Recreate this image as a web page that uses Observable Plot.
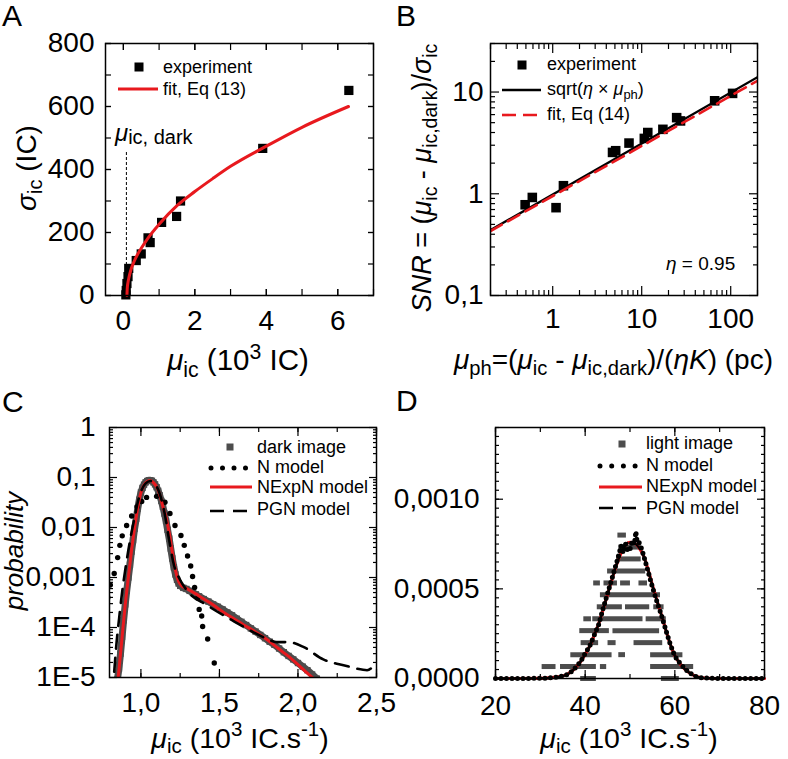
<!DOCTYPE html>
<html><head><meta charset="utf-8">
<script src="https://cdn.jsdelivr.net/npm/d3@7"></script>
<script src="https://cdn.jsdelivr.net/npm/@observablehq/plot@0.6"></script>
<style>
body{margin:0;background:#fff;}
#fig{position:relative;width:788px;height:759px;overflow:hidden;font-family:"Liberation Sans",Arial,sans-serif;color:#000;background:#fff;}
.pl{position:absolute;}
.t{position:absolute;white-space:nowrap;line-height:1;}
.t sub{font-size:0.72em;vertical-align:-0.32em;line-height:0;}
.t sup{font-size:0.72em;vertical-align:0.55em;line-height:0;}
.t.lowsub sub{vertical-align:-0.25em;}
</style></head><body><div id="fig"></div><script>
// ---------------- Panel A data ----------------
const aExpX = [6.31, 3.9, 1.6, 1.49, 1.07, 0.69, 0.75, 0.5, 0.36, 0.15, 0.13, 0.1, 0.08, 0.07];
const aExpY = [651, 467, 300, 251, 232, 183, 168, 132, 111, 86, 60, 38, 16, 2];
const aFitX = [0.1, 0.11, 0.13, 0.16, 0.2, 0.3, 0.4, 0.5, 0.7, 1.0, 1.5, 2.0, 2.5, 3.0, 4.0, 5.0, 6.3];
const aFitY = [0, 24, 42, 59, 77, 108, 131, 150, 184, 226, 285, 330, 371, 410, 474, 534, 600];
const aDarkX = 0.085, aDarkTop = 457;
const aXTicks = [0, 2, 4, 6], aXTickLabels = ["0", "2", "4", "6"];
const aXMinor = [0, 1, 2, 3, 4, 5, 6, 7];
const aYTicks = [0, 200, 400, 600, 800], aYTickLabels = ["0", "200", "400", "600", "800"];
const aYMinor = [0, 100, 200, 300, 400, 500, 600, 700, 800];

// ---------------- Panel B data ----------------
const bExpX = [0.49, 0.59, 1.09, 1.32, 4.7, 5.1, 7.2, 10.7, 11.7, 17.3, 24.7, 27.3, 66, 105];
const bExpY = [0.78, 0.92, 0.73, 1.2, 2.55, 2.65, 3.15, 3.5, 4.0, 4.3, 5.6, 5.2, 8.2, 9.7];
const bSqrtX = [0.2, 200], bSqrtY = [0.44, 14.0];
const bFitX = [0.2, 200], bFitY = [0.43, 12.9];
const bXTicks = [1, 10, 100], bXTickLabels = ["1", "10", "100"];
const bXMinor = [0.2,0.3,0.4,0.5,0.6,0.7,0.8,0.9,2,3,4,5,6,7,8,9,20,30,40,50,60,70,80,90,200];
const bYTicks = [0.1, 1, 10], bYTickLabels = ["0,1", "1", "10"];
const bYMinor = [0.2,0.3,0.4,0.5,0.6,0.7,0.8,0.9,2,3,4,5,6,7,8,9,20,30];

// ---------------- Panel C data ----------------
const cDarkX = [0.85,0.86,0.87,0.88,0.89,0.90,0.91,0.92,0.93,0.94,0.95,0.96,0.97,0.98,0.99,1.00,1.01,1.02,1.03,1.04,1.05,1.06,1.07,1.08,1.09,1.10,1.11,1.12,1.13,1.14,1.15,1.16,1.17,1.18,1.19,1.20,1.21,1.22,1.23,1.24,1.25,1.27,1.29,1.31,1.33,1.35,1.37,1.40,1.43,1.46,1.49,1.52,1.55,1.58,1.61,1.64,1.67,1.70,1.73,1.76,1.79,1.82,1.85,1.88,1.91,1.94,1.97,2.00,2.03,2.06,2.09,2.12,2.14];
const cDarkP = [9e-6,1.5e-5,3e-5,6.5e-5,1.4e-4,2.9e-4,5.5e-4,1.0e-3,1.8e-3,3.3e-3,5.6e-3,9.5e-3,1.5e-2,2.4e-2,3.6e-2,5.0e-2,6.2e-2,7.2e-2,8.0e-2,8.5e-2,8.8e-2,8.8e-2,8.6e-2,8.0e-2,7.3e-2,6.4e-2,5.4e-2,4.4e-2,3.4e-2,2.6e-2,1.9e-2,1.35e-2,9e-3,6e-3,3.8e-3,2.4e-3,1.6e-3,1.15e-3,9e-4,7.6e-4,6.8e-4,6.2e-4,5.9e-4,5.4e-4,5.0e-4,4.6e-4,4.2e-4,3.7e-4,3.3e-4,2.9e-4,2.6e-4,2.3e-4,2.0e-4,1.75e-4,1.5e-4,1.3e-4,1.12e-4,9.6e-5,8.3e-5,7.1e-5,6.1e-5,5.2e-5,4.5e-5,3.8e-5,3.2e-5,2.7e-5,2.3e-5,1.95e-5,1.65e-5,1.4e-5,1.15e-5,9.5e-6,8.5e-6];
const cRedX = [0.85,0.86,0.88,0.90,0.92,0.94,0.96,0.98,1.00,1.02,1.04,1.06,1.08,1.10,1.12,1.14,1.16,1.18,1.20,1.22,1.24,1.26,1.28,1.30,1.35,1.40,1.45,1.50,1.55,1.60,1.65,1.70,1.75,1.80,1.85,1.90,1.95,2.00,2.05,2.10];
const cRedP = [7e-6,1.4e-5,6.3e-5,2.8e-4,1.0e-3,3.4e-3,1.0e-2,2.5e-2,5.0e-2,7.1e-2,8.3e-2,8.7e-2,7.9e-2,6.5e-2,4.5e-2,2.6e-2,1.6e-2,7.9e-3,3.2e-3,1.4e-3,8.3e-4,6.8e-4,6.2e-4,5.8e-4,4.7e-4,3.7e-4,3.0e-4,2.3e-4,1.8e-4,1.45e-4,1.15e-4,9.3e-5,7.4e-5,5.8e-5,4.4e-5,3.3e-5,2.5e-5,1.8e-5,1.3e-5,9.5e-6];
const cNX = [0.79,0.805,0.83,0.852,0.866,0.881,0.909,0.941,0.976,1.005,1.036,1.10,1.153,1.185,1.217,1.255,1.276,1.297,1.317,1.329,1.342,1.361,1.371,1.387,1.393,1.425,1.467];
const cNP = [4.0e-4,7.1e-4,1.2e-3,2.5e-3,4.4e-3,6.8e-3,1.1e-2,1.7e-2,2.6e-2,3.3e-2,4.0e-2,4.2e-2,3.2e-2,1.9e-2,1.1e-2,6.9e-3,4.4e-3,2.7e-3,1.7e-3,1.05e-3,6.3e-4,3.9e-4,2.3e-4,1.7e-4,1.05e-4,5.9e-5,1.95e-5];
const cPgnX = [0.83,0.845,0.86,0.88,0.90,0.92,0.94,0.96,0.98,1.00,1.03,1.06,1.09,1.12,1.15,1.18,1.21,1.25,1.30,1.42,1.58,1.715,1.80,1.864,1.938,2.034,2.161,2.31,2.374,2.44,2.5];
const cPgnP = [1.3e-5,5e-5,1.4e-4,5e-4,1.4e-3,3.5e-3,7.9e-3,1.6e-2,3.2e-2,5.2e-2,7.6e-2,8.5e-2,7.4e-2,4.7e-2,2.0e-2,5.6e-3,1.8e-3,8.9e-4,5.2e-4,2.8e-4,1.4e-4,8.1e-5,6e-5,5.1e-5,5.1e-5,4.1e-5,2.3e-5,1.7e-5,1.5e-5,1.4e-5,2e-5];
const cXTicks = [1.0, 1.5, 2.0, 2.5], cXTickLabels = ["1,0", "1,5", "2,0", "2,5"];
const cXMinor = [1.0, 1.25, 1.5, 1.75, 2.0, 2.25, 2.5];
const cYTicks = [1e-5, 1e-4, 1e-3, 1e-2, 0.1, 1], cYTickLabels = ["1E-5", "1E-4", "0,001", "0,01", "0,1", "1"];
const cYMinor = [1e-5, 1e-4, 1e-3, 1e-2, 1e-1].flatMap(b => [2, 3, 4, 5, 6, 7, 8, 9].map(m => m * b));

// ---------------- Panel D data ----------------
const dRowY  = [0,0, 0.0000667,0.0000667,0.0000667,0.0000667, 0.000133,0.000133,0.000133, 0.0002,0.0002,0.0002, 0.000267,0.000267, 0.000333,0.000333,0.000333, 0.0004,0.0004,0.0004, 0.000467, 0.000533,0.000533,0.000533,0.000533, 0.0006, 0.000667, 0.000733, 0.0008];
const dRowX0 = [39,57, 30.4,34.5,43.4,54.6, 36.8,47.5,54.6, 39.1,45.1,50.9, 38.8,46.2, 39.7,41.7,53.6, 42.7,49,55.3, 43.4, 41.9,44.2,47.9,52, 45, 47, 47.5, 47.3];
const dRowX1 = [42.5,61, 33.5,42.5,44.8,64.2, 46,49,61.8, 43,46.9,57.3, 45.4,56.6, 41.4,52.9,58.1, 48.3,54.4,57.6, 56.8, 43.4,47.2,50.1,53.9, 53.5, 52.5, 52.5, 49.2];
const dModelX = [20,25,30,32,34,35,36,37,38,39,40,41,42,43,44,45,46,47,48,49,50,51,52,53,54,55,56,57,58,59,60,61,62,63,64,65,66,68,70,75,80];
const dModelY = [0,0,1e-6,3e-6,9e-6,1.4e-5,2.3e-5,4e-5,6.5e-5,9.5e-5,1.35e-4,1.8e-4,2.4e-4,3.05e-4,3.85e-4,4.7e-4,5.55e-4,6.35e-4,7.0e-4,7.45e-4,7.6e-4,7.55e-4,7.3e-4,6.85e-4,6.1e-4,5.2e-4,4.35e-4,3.55e-4,2.7e-4,1.9e-4,1.27e-4,8.8e-5,5.8e-5,3.6e-5,2e-5,9e-6,4e-6,1e-6,0,0,0];
const dNX = [20,25,30,32,34,35,36,37,38,39,40,41,42,43,44,45,46,47,47.5,48,48.5,49,49.5,50,50.5,51,51.3,51.6,52,52.5,53,54,55,56,57,58,59,60,61,62,63,64,65,66,68,70,75,80];
const dNY = [0,0,1e-6,3e-6,9e-6,1.4e-5,2.2e-5,4e-5,6.5e-5,9.5e-5,1.4e-4,1.8e-4,2.4e-4,3.0e-4,3.9e-4,4.75e-4,5.6e-4,6.45e-4,6.9e-4,7.4e-4,7.0e-4,7.5e-4,7.1e-4,7.2e-4,7.7e-4,7.5e-4,8.2e-4,7.6e-4,7.6e-4,7.3e-4,6.9e-4,6.0e-4,5.1e-4,4.3e-4,3.55e-4,2.7e-4,1.9e-4,1.25e-4,9e-5,6e-5,3.8e-5,2e-5,8e-6,4e-6,1e-6,0,0,0];
const dXTicks = [20, 40, 60, 80], dXTickLabels = ["20", "40", "60", "80"];
const dXMinor = [20, 30, 40, 50, 60, 70, 80];
const dYTicks = [0, 0.0005, 0.001], dYTickLabels = ["0,0000", "0,0005", "0,0010"];
const dYMinor = [0,0.00005,0.0001,0.00015,0.0002,0.00025,0.0003,0.00035,0.0004,0.00045,0.0005,0.00055,0.0006,0.00065,0.0007,0.00075,0.0008,0.00085,0.0009,0.00095,0.001,0.00105,0.0011,0.00115,0.0012,0.00125,0.0013,0.00135,0.0014];

// ---------------- helpers ----------------
const RED = "#e8191e", GREY = "#4d4d4d";
const zip = (xs, ys) => xs.map((x, i) => ({x, y: ys[i]}));
const STYLE = {fontFamily: '"Liberation Sans", Arial, sans-serif', fontSize: "28px", color: "#000", background: "transparent", overflow: "visible"};

function axes(o) {
  const fmt = (ticks, labels) => d => labels[ticks.indexOf(d)];
  const sw = 1.2, m = [];
  for (const [ticks, len] of [[o.xMinor, o.minor], [o.xTicks, o.major]]) {
    m.push(Plot.axisX({anchor: "bottom", ticks, tickSize: len, dy: -len, fill: "none", label: null, strokeWidth: sw}));
    m.push(Plot.axisX({anchor: "top", ticks, tickSize: len, dy: len, fill: "none", label: null, strokeWidth: sw}));
  }
  for (const [ticks, len] of [[o.yMinor, o.minor], [o.yTicks, o.major]]) {
    m.push(Plot.axisY({anchor: "left", ticks, tickSize: len, dx: len, fill: "none", label: null, strokeWidth: sw}));
    m.push(Plot.axisY({anchor: "right", ticks, tickSize: len, dx: -len, fill: "none", label: null, strokeWidth: sw}));
  }
  m.push(Plot.axisX({anchor: "bottom", ticks: o.xTicks, tickSize: 0, tickPadding: o.xPad, tickFormat: fmt(o.xTicks, o.xLabels), label: null}));
  m.push(Plot.axisY({anchor: "left", ticks: o.yTicks, tickSize: 0, tickPadding: o.yPad, tickFormat: fmt(o.yTicks, o.yLabels), label: null}));
  m.push(Plot.frame({stroke: "#000", strokeWidth: 1.5}));
  return m;
}

const fig = document.getElementById("fig");
function place(svg, left, top) { svg.classList.add("pl"); svg.style.left = left + "px"; svg.style.top = top + "px"; fig.appendChild(svg); }

// ---------------- Panel A ----------------
const plotA = Plot.plot({
  width: 394, height: 380, marginLeft: 105, marginRight: 21, marginTop: 43, marginBottom: 85,
  style: STYLE,
  x: {type: "linear", domain: [-0.5, 7]},
  y: {type: "linear", domain: [0, 800]},
  marks: [
    Plot.ruleX([aDarkX], {y1: 0, y2: aDarkTop, stroke: "#000", strokeWidth: 1, strokeDasharray: "3,2"}),
    Plot.dot(zip(aExpX, aExpY), {x: "x", y: "y", symbol: "square", r: 5.2, fill: "#000", stroke: "none"}),
    Plot.line(zip(aFitX, aFitY), {x: "x", y: "y", stroke: RED, strokeWidth: 3, curve: "monotone-x"}),
    ...axes({xTicks: aXTicks, xLabels: aXTickLabels, xMinor: aXMinor, yTicks: aYTicks, yLabels: aYTickLabels, yMinor: aYMinor, major: 6, minor: 6, xPad: 15, yPad: 11})
  ]
});
place(plotA, 0, 0);

// ---------------- Panel B ----------------
const plotB = Plot.plot({
  width: 394, height: 380, marginLeft: 96, marginRight: 31, marginTop: 43, marginBottom: 85,
  style: STYLE,
  x: {type: "log", domain: [0.2, 200]},
  y: {type: "log", domain: [0.1, 30]},
  marks: [
    Plot.dot(zip(bExpX, bExpY), {x: "x", y: "y", symbol: "square", r: 5.4, fill: "#000", stroke: "none"}),
    Plot.line(zip(bSqrtX, bSqrtY), {x: "x", y: "y", stroke: "#000", strokeWidth: 2.4, clip: true}),
    Plot.line(zip(bFitX, bFitY), {x: "x", y: "y", stroke: RED, strokeWidth: 2.6, strokeDasharray: "13,7", clip: true}),
    ...axes({xTicks: bXTicks, xLabels: bXTickLabels, xMinor: bXMinor, yTicks: bYTicks, yLabels: bYTickLabels, yMinor: bYMinor, major: 9, minor: 5, xPad: 13, yPad: 7})
  ]
});
place(plotB, 394, 0);

// ---------------- Panel C ----------------
const plotC = Plot.plot({
  width: 394, height: 379, marginLeft: 109, marginRight: 18, marginTop: 47, marginBottom: 82,
  style: STYLE,
  x: {type: "linear", domain: [0.8, 2.5]},
  y: {type: "log", domain: [1e-5, 1]},
  marks: [
    Plot.line(zip(cDarkX, cDarkP), {x: "x", y: "y", stroke: GREY, strokeWidth: 7, strokeLinejoin: "round", clip: true}),
    Plot.dot(zip(cDarkX, cDarkP), {x: "x", y: "y", symbol: "square", r: 3.6, fill: GREY, stroke: "none", clip: true}),
    Plot.dot(zip(cNX, cNP), {x: "x", y: "y", r: 2.7, fill: "#000", stroke: "none", clip: true}),
    Plot.line(zip(cRedX, cRedP), {x: "x", y: "y", stroke: RED, strokeWidth: 3, curve: "monotone-x", clip: true}),
    Plot.line(zip(cPgnX, cPgnP), {x: "x", y: "y", stroke: "#000", strokeWidth: 2.6, strokeDasharray: "14,9", curve: "monotone-x", clip: true}),
    ...axes({xTicks: cXTicks, xLabels: cXTickLabels, xMinor: cXMinor, yTicks: cYTicks, yLabels: cYTickLabels, yMinor: cYMinor, major: 8, minor: 4, xPad: 15, yPad: 14})
  ]
});
place(plotC, 0, 380);

// ---------------- Panel D ----------------
const dRows = dRowY.map((y, i) => ({y, x0: dRowX0[i], x1: dRowX1[i]}));
const plotD = Plot.plot({
  width: 394, height: 379, marginLeft: 101, marginRight: 24, marginTop: 47, marginBottom: 81,
  style: STYLE,
  x: {type: "linear", domain: [20, 80]},
  y: {type: "linear", domain: [0, 0.0014]},
  marks: [
    Plot.ruleY(dRows, {y: "y", x1: "x0", x2: "x1", stroke: GREY, strokeWidth: 5}),
    Plot.line(zip(dModelX, dModelY), {x: "x", y: "y", stroke: RED, strokeWidth: 3.2, curve: "monotone-x"}),
    Plot.line(zip(dModelX, dModelY), {x: "x", y: "y", stroke: "#000", strokeWidth: 2.4, strokeDasharray: "9,6", curve: "monotone-x"}),
    Plot.line(zip(dNX, dNY), {x: "x", y: "y", stroke: "#000", strokeWidth: 5, strokeDasharray: "0,5.5", strokeLinecap: "round"}),
    ...axes({xTicks: dXTicks, xLabels: dXTickLabels, xMinor: dXMinor, yTicks: dYTicks, yLabels: dYTickLabels, yMinor: dYMinor, major: 8, minor: 4, xPad: 17, yPad: 16})
  ]
});
place(plotD, 394, 380);

// ---------------- text ----------------
function label(html, x, y, {size = 27, rot = false, anchor = "middle", cls = ""} = {}) {
  const d = document.createElement("div");
  d.className = "t" + (cls ? " " + cls : "");
  d.innerHTML = html;
  d.style.fontSize = size + "px";
  d.style.left = x + "px"; d.style.top = y + "px";
  const tx = anchor === "start" ? "0" : anchor === "end" ? "-100%" : "-50%";
  d.style.transform = `translate(${tx},-50%)` + (rot ? " rotate(-90deg)" : "");
  fig.appendChild(d);
}
// panel letters
label("A", 2, 16, {size: 30, anchor: "start"});
label("B", 396, 16, {size: 30, anchor: "start"});
label("C", 2, 402, {size: 30, anchor: "start"});
label("D", 396, 401, {size: 30, anchor: "start"});
// axis titles
label("<i>σ</i><sub>ic</sub> (IC)", 27, 168, {rot: true, size: 28});
label("<i>μ</i><sub>ic</sub> (10<sup>3</sup> IC)", 238, 360, {size: 29.5});
label("<i>SNR</i> = (<i>μ</i><sub>ic</sub> - <i>μ</i><sub>ic,dark</sub>)/<i>σ</i><sub>ic</sub>", 422, 178, {rot: true});
label("<i>μ</i><sub>ph</sub>=(<i>μ</i><sub>ic</sub> - <i>μ</i><sub>ic,dark</sub>)/(<i>ηK</i>) (pc)", 454, 360, {anchor: "start", size: 28});
label("<i>probability</i>", 14, 551, {rot: true, size: 26});
label("<i>μ</i><sub>ic</sub> (10<sup>3</sup> IC.s<sup>-1</sup>)", 240, 738, {size: 28.5, cls: "lowsub"});
label("<i>μ</i><sub>ic</sub> (10<sup>3</sup> IC.s<sup>-1</sup>)", 629, 738, {size: 28.5, cls: "lowsub"});
// annotations
label('<i style="font-size:24px">μ</i><span style="font-size:20px;position:relative;top:3px">ic, dark</span>', 115, 133, {size: 20, anchor: "start"});
label("<i>η</i> = 0.95", 666, 263, {size: 19, anchor: "start"});
// legends text
label("experiment", 163, 67, {size: 18, anchor: "start"});
label("fit, Eq (13)", 163, 89, {size: 18, anchor: "start"});
label("experiment", 547, 64, {size: 18, anchor: "start"});
label("sqrt(<i>η</i> × <i>μ</i><sub>ph</sub>)", 547, 89, {size: 18, anchor: "start"});
label("fit, Eq (14)", 547, 114, {size: 18, anchor: "start"});
label("dark image", 257, 447, {size: 18, anchor: "start"});
label("N model", 257, 467, {size: 18, anchor: "start"});
label("NExpN model", 257, 487, {size: 18, anchor: "start"});
label("PGN model", 257, 509, {size: 18, anchor: "start"});
label("light image", 646, 443, {size: 18, anchor: "start"});
label("N model", 646, 465, {size: 18, anchor: "start"});
label("NExpN model", 646, 486, {size: 18, anchor: "start"});
label("PGN model", 646, 508, {size: 18, anchor: "start"});

// legend swatches
const ov = d3.select(fig).append("svg").attr("width", 788).attr("height", 759)
  .style("position", "absolute").style("left", "0px").style("top", "0px").style("pointer-events", "none");
function sq(cx, cy, s, fill) { ov.append("rect").attr("x", cx - s / 2).attr("y", cy - s / 2).attr("width", s).attr("height", s).attr("fill", fill); }
function ln(x1, x2, y, stroke, w, dash, cap) {
  const l = ov.append("line").attr("x1", x1).attr("x2", x2).attr("y1", y).attr("y2", y).attr("stroke", stroke).attr("stroke-width", w);
  if (dash) l.attr("stroke-dasharray", dash);
  if (cap) l.attr("stroke-linecap", cap);
}
sq(139, 67, 9, "#000"); ln(118, 158, 89, RED, 3);
sq(522, 65, 9, "#000"); ln(502, 541, 90, "#000", 2.4); ln(502, 541, 115, RED, 2.6, "14,7");
sq(230, 447, 7, GREY); ln(211, 247, 468, "#000", 5, "0,11.5", "round"); ln(210, 252, 487, RED, 3); ln(210, 248, 511, "#000", 2.6, "14,9");
sq(622, 444, 7, GREY); ln(600, 636, 466, "#000", 5, "0,11.7", "round"); ln(599, 642, 487, RED, 3); ln(599, 637, 508, "#000", 2.6, "14,9");
</script></body></html>
